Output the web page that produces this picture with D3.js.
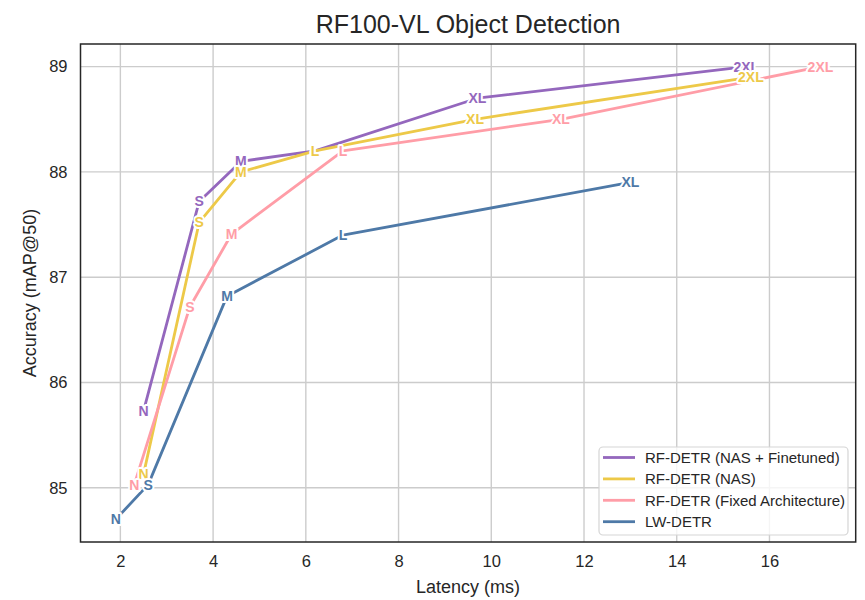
<!DOCTYPE html>
<html>
<head>
<meta charset="utf-8">
<script src="https://cdn.jsdelivr.net/npm/d3@7"></script>
<style>
  body { margin: 0; background: #fff; }
  text { font-family: "Liberation Sans", Arial, sans-serif; }
</style>
</head>
<body>
<svg id="chart" width="865" height="600"></svg>
<script>
// ---- data ----
const seriesNames = ["RF-DETR (NAS + Finetuned)", "RF-DETR (NAS)", "RF-DETR (Fixed Architecture)", "LW-DETR"];
const seriesColors = ["#9467bd", "#edc948", "#ff9da7", "#4e79a7"];

const nasFtLabels = ["N", "S", "M", "L", "XL", "2XL"];
const nasFtLatency = [2.5, 3.7, 4.6, 6.2, 9.7, 15.5];
const nasFtAcc = [85.73, 87.72, 88.1, 88.2, 88.7, 89.0];

const nasLabels = ["N", "S", "M", "L", "XL", "2XL"];
const nasLatency = [2.5, 3.7, 4.6, 6.2, 9.65, 15.6];
const nasAcc = [85.13, 87.52, 88.0, 88.2, 88.5, 88.9];

const fixedLabels = ["N", "S", "M", "L", "XL", "2XL"];
const fixedLatency = [2.3, 3.5, 4.4, 6.8, 11.5, 17.1];
const fixedAcc = [85.03, 86.72, 87.41, 88.2, 88.5, 89.0];

const lwLabels = ["N", "S", "M", "L", "XL"];
const lwLatency = [1.9, 2.6, 4.3, 6.8, 13.0];
const lwAcc = [84.7, 85.03, 86.82, 87.4, 87.9];

const xTicks = [2, 4, 6, 8, 10, 12, 14, 16];
const yTicks = [85, 86, 87, 88, 89];

const titleText = "RF100-VL Object Detection";
const xLabelText = "Latency (ms)";
const yLabelText = "Accuracy (mAP@50)";

// ---- build ----
const series = [
  { name: seriesNames[0], color: seriesColors[0], labels: nasFtLabels, x: nasFtLatency, y: nasFtAcc },
  { name: seriesNames[1], color: seriesColors[1], labels: nasLabels, x: nasLatency, y: nasAcc },
  { name: seriesNames[2], color: seriesColors[2], labels: fixedLabels, x: fixedLatency, y: fixedAcc },
  { name: seriesNames[3], color: seriesColors[3], labels: lwLabels, x: lwLatency, y: lwAcc }
].map(s => ({ ...s, pts: s.x.map((v, i) => ({ x: v, y: s.y[i], label: s.labels[i] })) }));

const svg = d3.select("#chart");
const L = 80.5, R = 855.7, T = 44, B = 542;

const allX = series.flatMap(s => s.x), allY = series.flatMap(s => s.y);
function padded(ext) { const d = (ext[1] - ext[0]) * 0.05; return [ext[0] - d, ext[1] + d]; }
const x = d3.scaleLinear().domain(padded(d3.extent(allX))).range([L, R]);
const y = d3.scaleLinear().domain(padded(d3.extent(allY))).range([B, T]);

// grid
const grid = svg.append("g");
grid.selectAll(".gx").data(xTicks).join("line")
  .attr("x1", d => x(d)).attr("x2", d => x(d)).attr("y1", T).attr("y2", B)
  .attr("stroke", "#cccccc").attr("stroke-width", 1.4);
grid.selectAll(".gy").data(yTicks).join("line")
  .attr("y1", d => y(d)).attr("y2", d => y(d)).attr("x1", L).attr("x2", R)
  .attr("stroke", "#cccccc").attr("stroke-width", 1.4);

// axes tick labels via d3 axes
const xAxis = svg.append("g").attr("transform", `translate(0,${B})`)
  .call(d3.axisBottom(x).tickValues(xTicks).tickSize(0).tickPadding(13).tickFormat(d3.format("d")));
xAxis.select(".domain").remove();
xAxis.selectAll("text").attr("font-size", 16.5).attr("fill", "#262626")
  .attr("font-family", "Liberation Sans, Arial, sans-serif");

const yAxis = svg.append("g").attr("transform", `translate(${L},0)`)
  .call(d3.axisLeft(y).tickValues(yTicks).tickSize(0).tickPadding(13).tickFormat(d3.format("d")));
yAxis.select(".domain").remove();
yAxis.selectAll("text").attr("font-size", 16.5).attr("fill", "#262626")
  .attr("font-family", "Liberation Sans, Arial, sans-serif");

// lines
const line = d3.line().x(d => x(d.x)).y(d => y(d.y));
series.forEach(s => {
  svg.append("path").datum(s.pts).attr("d", line)
    .attr("fill", "none").attr("stroke", s.color).attr("stroke-width", 2.8)
    .attr("stroke-linejoin", "round").attr("stroke-linecap", "butt");
});

// point labels
series.forEach(s => {
  svg.append("g").selectAll("text").data(s.pts).join("text")
    .attr("x", d => x(d.x)).attr("y", d => y(d.y))
    .attr("text-anchor", "middle").attr("dominant-baseline", "central")
    .attr("font-size", 14).attr("font-weight", "bold")
    .attr("fill", s.color).attr("stroke", "#fff").attr("stroke-width", 4)
    .attr("stroke-linejoin", "round").attr("paint-order", "stroke")
    .text(d => d.label);
});

// frame
svg.append("rect").attr("x", L).attr("y", T).attr("width", R - L).attr("height", B - T)
  .attr("fill", "none").attr("stroke", "#262626").attr("stroke-width", 1.5);

// title & labels
svg.append("text").attr("x", (L + R) / 2).attr("y", 33).attr("text-anchor", "middle")
  .attr("font-size", 25).attr("fill", "#262626").text(titleText);
svg.append("text").attr("x", (L + R) / 2).attr("y", 593).attr("text-anchor", "middle")
  .attr("font-size", 18).attr("fill", "#262626").text(xLabelText);
svg.append("text").attr("transform", `translate(36,${(T + B) / 2}) rotate(-90)`)
  .attr("text-anchor", "middle").attr("font-size", 18).attr("fill", "#262626").text(yLabelText);

// legend
const lg = svg.append("g");
lg.append("rect").attr("x", 599).attr("y", 447).attr("width", 249).attr("height", 88)
  .attr("rx", 4).attr("fill", "#fff").attr("fill-opacity", 0.8)
  .attr("stroke", "#d5d5d5").attr("stroke-width", 1.2);
series.forEach((s, i) => {
  const cy = 457.5 + i * 21.4;
  lg.append("line").attr("x1", 603).attr("x2", 635).attr("y1", cy).attr("y2", cy)
    .attr("stroke", s.color).attr("stroke-width", 2.8);
  lg.append("text").attr("x", 645).attr("y", cy).attr("dominant-baseline", "central")
    .attr("font-size", 15).attr("fill", "#262626").text(s.name);
});
</script>
</body>
</html>
